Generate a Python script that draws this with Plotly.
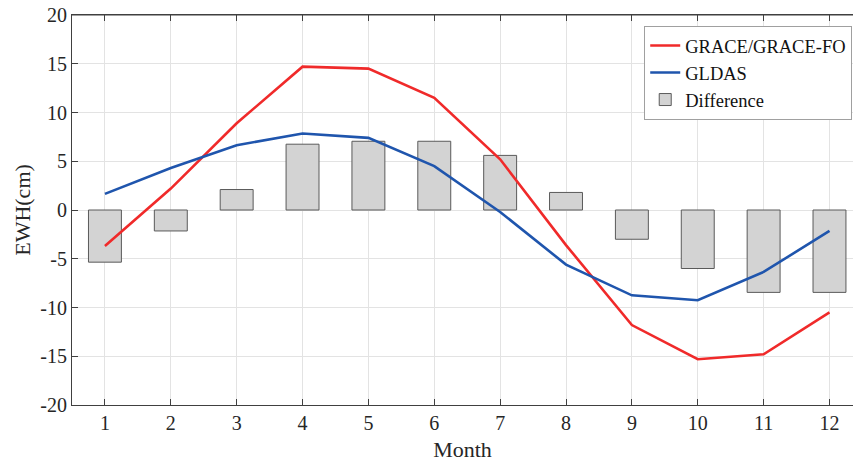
import plotly.graph_objects as go

months = [1, 2, 3, 4, 5, 6, 7, 8, 9, 10, 11, 12]
grace = [-3.7, 2.2, 8.9, 14.7, 14.5, 11.5, 5.2, -3.6, -11.8, -15.3, -14.8, -10.5]
gldas = [1.65, 4.3, 6.65, 7.85, 7.4, 4.5, -0.2, -5.6, -8.75, -9.25, -6.35, -2.15]
difference = [-5.35, -2.15, 2.1, 6.75, 7.05, 7.05, 5.6, 1.8, -3.0, -6.0, -8.45, -8.45]
y_ticks = [-20, -15, -10, -5, 0, 5, 10, 15, 20]
y_tick_labels = ["-20", "-15", "-10", "-5", "0", "5", "10", "15", "20"]

FONT = "Liberation Serif, Times New Roman, serif"

fig = go.Figure()
fig.add_trace(go.Scatter(x=months, y=grace, mode="lines", name="GRACE/GRACE-FO",
                         line=dict(color="#f02a2a", width=2.6)))
fig.add_trace(go.Scatter(x=months, y=gldas, mode="lines", name="GLDAS",
                         line=dict(color="#1f55ad", width=2.6)))
fig.add_trace(go.Bar(x=months, y=difference, name="Difference", width=0.5,
                     marker=dict(color="#d3d3d3", line=dict(color="#5a5a5a", width=1))))

fig.update_layout(
    width=853, height=465,
    margin=dict(l=72, r=0, t=15, b=60),
    paper_bgcolor="white", plot_bgcolor="white",
    font=dict(family=FONT, color="#262626"),
    showlegend=True,
    legend=dict(x=0.999, xanchor="right", y=0.972, yanchor="top",
                bgcolor="white", bordercolor="#a0a0a0", borderwidth=1,
                font=dict(family=FONT, size=18.5, color="#111111"),
                itemwidth=30, tracegroupgap=0),
    xaxis=dict(range=[0.5, 12.357], tickmode="array", tickvals=months,
               ticks="inside", ticklen=6, tickcolor="#404040", automargin=False,
               ticklabeloverflow="allow",
               showline=True, linecolor="#404040", linewidth=1, mirror="ticks",
               showgrid=True, gridcolor="#e3e3e3", gridwidth=1, zeroline=False,
               tickfont=dict(size=20, family=FONT, color="#262626"),
               title=dict(text="Month", font=dict(size=22, family=FONT, color="#262626"), standoff=8)),
    yaxis=dict(range=[-20, 20], tickmode="array", tickvals=y_ticks, ticktext=y_tick_labels,
               ticks="inside", ticklen=6, tickcolor="#404040", automargin=False,
               ticklabeloverflow="allow",
               showline=True, linecolor="#404040", linewidth=1, mirror=False,
               showgrid=True, gridcolor="#e3e3e3", gridwidth=1, zeroline=False,
               tickfont=dict(size=20, family=FONT, color="#262626"),
               title=dict(text="EWH(cm)", font=dict(size=22, family=FONT, color="#262626"), standoff=3)),
)
fig.add_shape(type="line", xref="paper", yref="paper", x0=0, x1=1, y0=1, y1=1,
              line=dict(color="#404040", width=1))

fig.write_html("out.html", config={"displayModeBar": False},
               post_script="document.body.style.margin='0';")
